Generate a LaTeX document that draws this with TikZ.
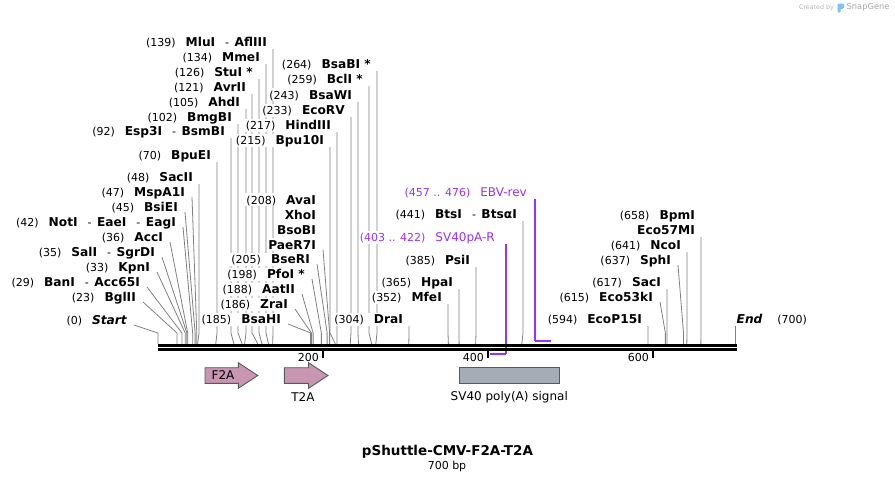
\documentclass[tikz,border=0pt]{standalone}
\usepackage{fontspec}
\setmainfont{DejaVu Sans}[BoldFont={DejaVu Sans Bold},ItalicFont={DejaVu Sans Oblique},BoldItalicFont={DejaVu Sans Bold Oblique}]
\usetikzlibrary{calc,backgrounds}
\definecolor{primerpurple}{RGB}{155,48,255}
\definecolor{cdspink}{RGB}{201,150,178}
\definecolor{polyagray}{RGB}{166,172,181}
\definecolor{snapblue}{RGB}{125,195,240}
\newcommand{\bpx}[1]{158+0.825*#1}
\newcommand{\numtxt}[1]{{\fontsize{11}{13}\selectfont #1}}
\newcommand{\enz}[1]{{\fontsize{12.2}{14}\selectfont\bfseries #1}}
\newcommand{\ngap}{\hspace{10pt}}
\newcommand{\sepdash}{\hspace{10pt}\numtxt{-}\hspace{5.5pt}}
\newcommand{\vlead}[2]{\draw[leader] let \p1=(#1.east) in (\x1+5pt,\y1-7pt) -- (\x1+5pt,-333pt) -- (#2);}
\newcommand{\dlead}[2]{\draw[leader] let \p1=(#1.east) in (\x1+6pt,\y1-5pt) -- (#2 |- bend) -- (#2);}

\begin{document}
\begin{tikzpicture}[x=1pt,y=-1pt,
  lbl/.style={anchor=east,fill=white,inner xsep=1pt,inner ysep=1pt,text height=10pt,text depth=1pt},
  leader/.style={draw=black!50,line width=0.8pt},
  primer/.style={draw=primerpurple,line width=1.4pt},
  primerbar/.style={draw=primerpurple,line width=2.6pt},
  bbone/.style={draw=black,line width=2.6pt},
  tick/.style={draw=black,line width=2pt},
  cds/.style={fill=cdspink,draw=black!65,line width=0.9pt},
  polya/.style={fill=polyagray,draw=black!65,line width=0.9pt},
  ftxt/.style={inner sep=0pt,font=\fontsize{12}{14}\selectfont},
  ticktxt/.style={anchor=east,inner sep=0pt,font=\fontsize{11}{13}\selectfont}]
  \useasboundingbox (0,0) rectangle (895,483);
  \coordinate (bend) at (0,333);
  \foreach \s in {0,23,29,33,35,36,42,45,47,48,70,92,102,105,121,126,134,139,
    185,186,188,198,205,208,215,217,233,243,259,264,304,352,365,385,441,
    594,615,617,637,641,658,700}
    \coordinate (s\s) at (\bpx{\s},344);

  \node[lbl] (mlui)    at (268,42)  {\numtxt{(139)}\ngap\enz{MluI}\sepdash\enz{AflIII}};
  \node[lbl] (mmei)    at (261,57)  {\numtxt{(134)}\ngap\enz{MmeI}};
  \node[lbl] (stui)    at (254,72)  {\numtxt{(126)}\ngap\enz{StuI *}};
  \node[lbl] (avrii)   at (247,87)  {\numtxt{(121)}\ngap\enz{AvrII}};
  \node[lbl] (ahdi)    at (241,102) {\numtxt{(105)}\ngap\enz{AhdI}};
  \node[lbl] (bmgbi)   at (233,117) {\numtxt{(102)}\ngap\enz{BmgBI}};
  \node[lbl] (esp3i)   at (226,131) {\numtxt{(92)}\ngap\enz{Esp3I}\sepdash\enz{BsmBI}};
  \node[lbl] (bpuei)   at (212,155) {\numtxt{(70)}\ngap\enz{BpuEI}};
  \node[lbl] (sacii)   at (194,177) {\numtxt{(48)}\ngap\enz{SacII}};
  \node[lbl] (mspa1i)  at (186,192) {\numtxt{(47)}\ngap\enz{MspA1I}};
  \node[lbl] (bsiei)   at (179,207) {\numtxt{(45)}\ngap\enz{BsiEI}};
  \node[lbl] (noti)    at (177,222) {\numtxt{(42)}\ngap\enz{NotI}\sepdash\enz{EaeI}\sepdash\enz{EagI}};
  \node[lbl] (acci)    at (164,237) {\numtxt{(36)}\ngap\enz{AccI}};
  \node[lbl] (sali)    at (156,252) {\numtxt{(35)}\ngap\enz{SalI}\sepdash\enz{SgrDI}};
  \node[lbl] (kpni)    at (151,267) {\numtxt{(33)}\ngap\enz{KpnI}};
  \node[lbl] (bani)    at (141,282) {\numtxt{(29)}\ngap\enz{BanI}\sepdash\enz{Acc65I}};
  \node[lbl] (bglii)   at (137,297) {\numtxt{(23)}\ngap\enz{BglII}};
  \node[lbl] (start)   at (128,320) {\numtxt{(0)}\ngap\enz{\itshape Start}};

  \node[lbl] (bsabi)   at (372,64)  {\numtxt{(264)}\ngap\enz{BsaBI *}};
  \node[lbl] (bcli)    at (364,79)  {\numtxt{(259)}\ngap\enz{BclI *}};
  \node[lbl] (bsawi)   at (353,94.5){\numtxt{(243)}\ngap\enz{BsaWI}};
  \node[lbl] (ecorv)   at (346,110) {\numtxt{(233)}\ngap\enz{EcoRV}};
  \node[lbl] (hindiii) at (332,125) {\numtxt{(217)}\ngap\enz{HindIII}};
  \node[lbl] (bpu10i)  at (325,140) {\numtxt{(215)}\ngap\enz{Bpu10I}};

  \node[lbl] (avai)    at (317,199.5) {\numtxt{(208)}\ngap\enz{AvaI}};
  \node[lbl] (xhoi)    at (317,214.5) {\enz{XhoI}};
  \node[lbl] (bsobi)   at (317,229.5) {\enz{BsoBI}};
  \node[lbl] (paer7i)  at (317,244.5) {\enz{PaeR7I}};
  \node[lbl] (bseri)   at (311,259) {\numtxt{(205)}\ngap\enz{BseRI}};
  \node[lbl] (pfoi)    at (306,274) {\numtxt{(198)}\ngap\enz{PfoI *}};
  \node[lbl] (aatii)   at (296,289) {\numtxt{(188)}\ngap\enz{AatII}};
  \node[lbl] (zrai)    at (289,304) {\numtxt{(186)}\ngap\enz{ZraI}};
  \node[lbl] (bsahi)   at (282,319) {\numtxt{(185)}\ngap\enz{BsaHI}};

  \node[lbl,text=primerpurple] (ebv)   at (528,192) {\numtxt{(457 .. 476)}\ngap{\fontsize{12}{14}\selectfont EBV-rev}};
  \node[lbl] (btsi)    at (518,214) {\numtxt{(441)}\ngap\enz{BtsI}\sepdash\enz{BtsαI}};
  \node[lbl,text=primerpurple] (sv40r) at (496,237) {\numtxt{(403 .. 422)}\ngap{\fontsize{12}{14}\selectfont SV40pA-R}};
  \node[lbl] (psii)    at (471,260) {\numtxt{(385)}\ngap\enz{PsiI}};
  \node[lbl] (hpai)    at (454,282) {\numtxt{(365)}\ngap\enz{HpaI}};
  \node[lbl] (mfei)    at (443,297) {\numtxt{(352)}\ngap\enz{MfeI}};
  \node[lbl] (drai)    at (404,319) {\numtxt{(304)}\ngap\enz{DraI}};

  \node[lbl] (bpmi)    at (696,215) {\numtxt{(658)}\ngap\enz{BpmI}};
  \node[lbl] (eco57mi) at (696,230) {\enz{Eco57MI}};
  \node[lbl] (ncoi)    at (682,245) {\numtxt{(641)}\ngap\enz{NcoI}};
  \node[lbl] (sphi)    at (672,260) {\numtxt{(637)}\ngap\enz{SphI}};
  \node[lbl] (saci)    at (662,282) {\numtxt{(617)}\ngap\enz{SacI}};
  \node[lbl] (eco53ki) at (654,297) {\numtxt{(615)}\ngap\enz{Eco53kI}};
  \node[lbl] (ecop15i) at (643,319) {\numtxt{(594)}\ngap\enz{EcoP15I}};
  \node[lbl,anchor=west] (endl) at (735.5,319) {\enz{\itshape End}\hspace{15pt}\numtxt{(700)}};

  \begin{pgfonlayer}{background}
    \vlead{mlui}{s139} \vlead{mmei}{s134} \vlead{stui}{s126} \vlead{avrii}{s121}
    \vlead{ahdi}{s105} \vlead{bmgbi}{s102} \vlead{esp3i}{s92} \vlead{bpuei}{s70}
    \vlead{sacii}{s48}
    \dlead{mspa1i}{s47} \dlead{bsiei}{s45} \dlead{noti}{s42} \dlead{acci}{s36}
    \dlead{sali}{s35} \dlead{kpni}{s33} \dlead{bani}{s29} \dlead{bglii}{s23}
    \dlead{start}{s0}
    \vlead{bsabi}{s264} \vlead{bcli}{s259} \vlead{bsawi}{s243} \vlead{ecorv}{s233}
    \vlead{hindiii}{s217} \vlead{bpu10i}{s215}
    \dlead{paer7i}{s208} \dlead{bseri}{s205} \dlead{pfoi}{s198} \dlead{aatii}{s188}
    \dlead{zrai}{s186} \dlead{bsahi}{s185}
    \vlead{btsi}{s441} \vlead{psii}{s385} \vlead{hpai}{s365} \vlead{mfei}{s352}
    \vlead{drai}{s304}
    \vlead{eco57mi}{s658} \vlead{ncoi}{s641} \dlead{sphi}{s637} \vlead{saci}{s617}
    \dlead{eco53ki}{s615} \vlead{ecop15i}{s594}
    \draw[leader] (s700 |- endl.south) -- (s700);
  \end{pgfonlayer}

  \coordinate (e1) at (\bpx{457},341);
  \coordinate (e2) at (\bpx{476},341);
  \coordinate (r1) at (\bpx{403},354);
  \coordinate (r2) at (\bpx{422},354);
  \draw[primer] (e1 |- ebv.south) -- (e1);
  \draw[primerbar] (e1) -- (e2);
  \draw[primer] (r2 |- sv40r.south) -- (r2);
  \draw[primerbar] (r1) -- (r2);

  \coordinate (b0) at (158,345.3);
  \coordinate (b1) at (737,345.3);
  \draw[bbone] (b0) -- (b1);
  \draw[bbone] ([yshift=-4.1pt]b0) -- ([yshift=-4.1pt]b1);

  \coordinate (t200) at (\bpx{200},351);
  \coordinate (t400) at (\bpx{400},351);
  \coordinate (t600) at (\bpx{600},351);
  \draw[tick] (t200) -- ++(0,6.5);
  \draw[tick] (t400) -- ++(0,6.5);
  \draw[tick] (t600) -- ++(0,6.5);
  \node[ticktxt] (n200) at ([xshift=-4pt,yshift=-6pt]t200) {200};
  \node[ticktxt] (n400) at ([xshift=-4pt,yshift=-6pt]t400) {400};
  \node[ticktxt] (n600) at ([xshift=-4pt,yshift=-6pt]t600) {600};

  \draw[cds] (205,367.7) -- (238.3,367.7) -- (238.3,362.7) -- (257.8,375.5)
    -- (238.3,388.3) -- (238.3,383.3) -- (205,383.3) -- cycle;
  \node[ftxt] (f2a) at (223,375.5) {F2A};
  \draw[cds] (284.3,367.7) -- (308.5,367.7) -- (308.5,362.7) -- (328,375.5)
    -- (308.5,388.3) -- (308.5,383.3) -- (284.3,383.3) -- cycle;
  \node[ftxt] (t2a) at (303,397) {T2A};
  \draw[polya] (459.3,367.3) rectangle (559.3,383.3);
  \node[ftxt] (sv40) at (509.3,397) {SV40 poly(A) signal};

  \node[inner sep=0pt,font=\fontsize{13.5}{16}\selectfont\bfseries] (title) at (447.5,452) {pShuttle-CMV-F2A-T2A};
  \node[inner sep=0pt,font=\fontsize{11}{13}\selectfont] (size) at (447,466) {700 bp};

  \node[anchor=east,inner sep=0pt,text=black!30,font=\fontsize{6.3}{7}\selectfont] (cby) at (834,8) {Created by};
  \fill[snapblue,rounded corners=1pt] (837.5,12.5) -- (837.5,3.5) -- (844,3.5) -- (844,8.5)
    -- (840.5,9) -- (840.5,12.5) -- cycle;
  \node[anchor=west,inner sep=0pt,text=black!35,font=\fontsize{8.3}{9}\selectfont] (snapg) at (846.5,7.5) {SnapGene};
\end{tikzpicture}
\end{document}
